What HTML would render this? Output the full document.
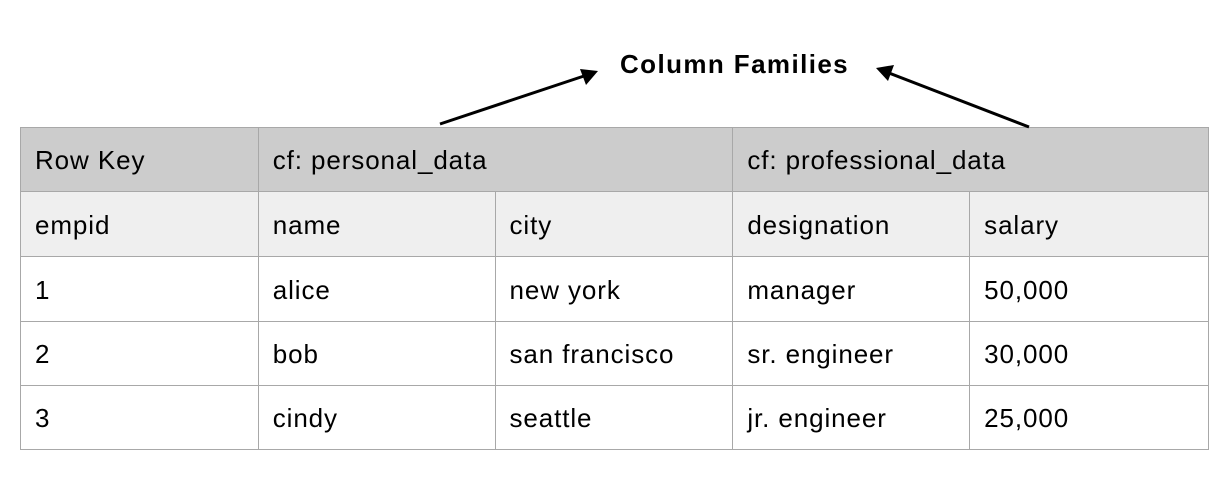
<!DOCTYPE html>
<html><head><style>
body{margin:0;width:1229px;height:479px;background:#fff;position:relative;font-family:"Liberation Sans",Arial,sans-serif;overflow:hidden}
table{position:absolute;left:20px;top:127px;border-collapse:collapse;width:1189px}
td{border:1.5px solid #a8a8a8;height:63px;padding:2px 0 0 14px;font-size:26px;letter-spacing:0.9px;color:#000;box-sizing:border-box}
tr.h td{background:#cccccc}
tr.s td{background:#efefef}
.t{position:absolute;left:620px;top:49px;font-size:26px;font-weight:bold;letter-spacing:1.4px}
</style></head><body>
<table>
<colgroup><col style="width:238px"><col style="width:237px"><col style="width:238px"><col style="width:237px"><col style="width:239px"></colgroup>
<tr class="h" style="height:64px"><td>Row Key</td><td colspan="2">cf: personal_data</td><td colspan="2">cf: professional_data</td></tr>
<tr class="s" style="height:65px"><td>empid</td><td>name</td><td>city</td><td>designation</td><td>salary</td></tr>
<tr style="height:65px"><td>1</td><td>alice</td><td>new york</td><td>manager</td><td>50,000</td></tr>
<tr style="height:64px"><td>2</td><td>bob</td><td>san francisco</td><td>sr. engineer</td><td>30,000</td></tr>
<tr style="height:64px"><td>3</td><td>cindy</td><td>seattle</td><td>jr. engineer</td><td>25,000</td></tr>
</table>
<div class="t">Column Families</div>
<svg width="1229" height="479" style="position:absolute;left:0;top:0">
<line x1="440" y1="124" x2="584" y2="76" stroke="#000" stroke-width="3"/>
<path d="M598,71 L580,69 L586,85 z" fill="#000"/>
<line x1="1029" y1="127" x2="889" y2="73" stroke="#000" stroke-width="3"/>
<path d="M876,68 L894,65 L888,81 z" fill="#000"/>
</svg>
</body></html>
